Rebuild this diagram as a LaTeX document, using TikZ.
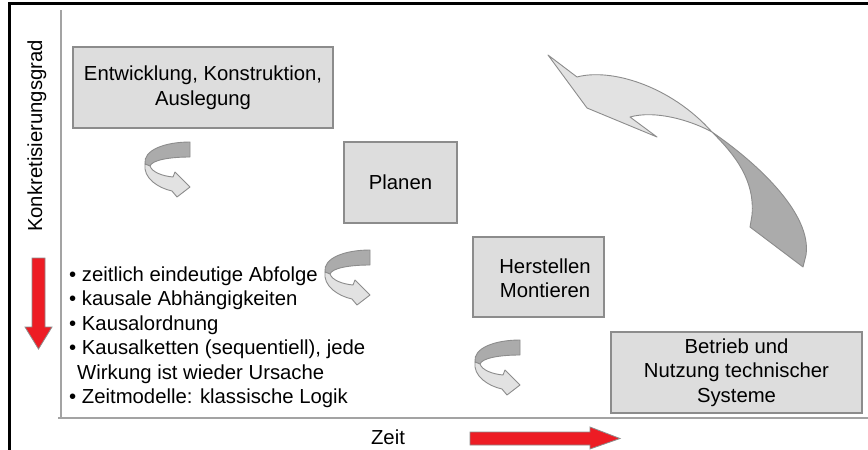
\documentclass[tikz,border=0pt]{standalone}
\usepackage{fontspec}
\setmainfont{Liberation Sans}
\definecolor{boxgray}{HTML}{DDDDDD}
\definecolor{edgegray}{HTML}{8C8C8C}
\definecolor{ribbondark}{HTML}{ABABAB}
\definecolor{ribbonlight}{HTML}{E2E2E2}
\definecolor{zeitred}{HTML}{ED1C24}

\begin{document}
\begin{tikzpicture}[x=1pt,y=-1pt]
    \tikzset{phase/.style = {shape=rectangle, draw=edgegray, fill=boxgray, line width=1.2pt, align=center, inner sep=0pt}}
    \tikzset{ribbon/.style = {draw=edgegray, line width=0.9pt, line join=round}}
    \tikzset{redarrow/.style = {fill=zeitred, draw=edgegray, line width=0.8pt}}
    \tikzset{axis/.style = {draw=edgegray!80, line width=1.3pt}}
    \tikzset{twistarrow/.pic = {
        \filldraw[ribbon, fill=ribbondark] (0,0) -- (0,15) .. controls (-20,15) and (-38,18) .. (-40,24) -- (-45,22) .. controls (-47,8) and (-25,0) .. (0,0) -- cycle;
        \filldraw[ribbon, fill=ribbonlight] (-45,22) .. controls (-47,36) and (-32,46) .. (-18,49) -- (-13,55) -- (0,45) -- (-15,30) -- (-17,35) .. controls (-28,34) and (-38,30) .. (-40,24) -- cycle;
    }}
    \useasboundingbox (0,0) rectangle (868,450);
    \fontsize{20.3}{24.5}\selectfont
    % frame and axes
    \draw[black, line width=3pt] (8,3) -- (868,3);
    \draw[black, line width=3pt] (9,3) -- (9,450);
    \draw[axis] (61,10) -- (61,418);
    \draw[axis] (58,418) -- (868,418);
    % phases
    \node[phase, minimum width=260pt, minimum height=81pt] (entw) at (203,87.5) {Entwicklung, Konstruktion,\\Auslegung};
    \node[phase, minimum width=113pt, minimum height=81pt] (plan) at (400.5,182.5) {Planen};
    \node[phase, minimum width=131pt, minimum height=80pt] (herst) at (538.5,277) {};
    \node[align=center, inner sep=0pt] (herstText) at (545,278) {Herstellen\\Montieren};
    \node[phase, minimum width=251pt, minimum height=81pt] (betr) at (736.5,372.5) {Betrieb und\\Nutzung technischer\\Systeme};
    % turning arrows between phases
    \pic at (190,142) {twistarrow};
    \pic at (370,250) {twistarrow};
    \pic at (520,340) {twistarrow};
    % feedback arrow
    \filldraw[ribbon, fill=ribbonlight] (548,55) -- (577,77) .. controls (610,68) and (670,85) .. (712,132) .. controls (690,120) and (655,110) .. (630,117) -- (657,137) -- (587,108) -- cycle;
    \filldraw[ribbon, fill=ribbondark] (712,132) .. controls (760,165) and (812,215) .. (806,255) -- (803,267) -- (750,227) -- (752,215) .. controls (755,180) and (735,155) .. (712,132) -- cycle;
    % labels
    \node[rotate=90, inner sep=0pt] (konkret) at (37,136) {Konkretisierungsgrad};
    \node[inner sep=0pt] (zeit) at (388,437) {Zeit};
    \node[anchor=west, align=left, inner sep=0pt] (liste) at (69,337) {%
        • zeitlich eindeutige Abfolge\\
        • kausale Abhängigkeiten\\
        • Kausalordnung\\
        • Kausalketten (sequentiell), jede\\
        \hspace*{8pt}Wirkung ist wieder Ursache\\
        • Zeitmodelle: klassische Logik};
    % red arrows
    \filldraw[redarrow] (32,258) -- (45,258) -- (45,327) -- (52,327) -- (38.5,349) -- (25,327) -- (32,327) -- cycle;
    \filldraw[redarrow] (470,432) -- (590,432) -- (590,427) -- (620,438.5) -- (590,449) -- (590,445) -- (470,445) -- cycle;
\end{tikzpicture}
\end{document}
